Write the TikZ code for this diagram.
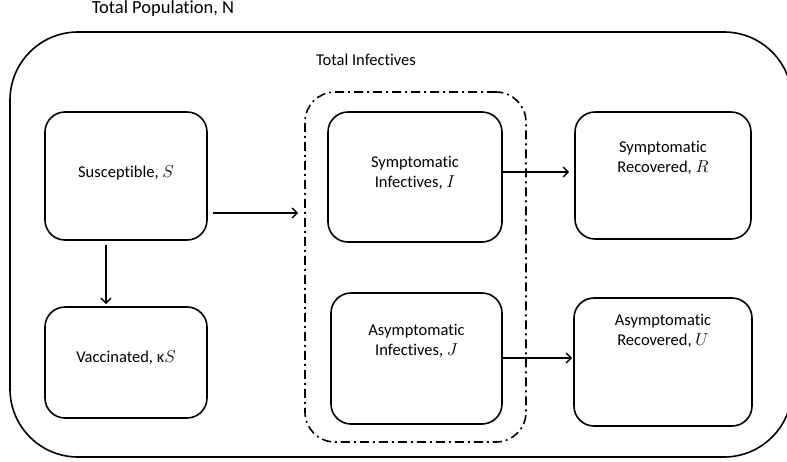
\documentclass[tikz,border=0pt]{standalone}
\usepackage{fontspec}
\setmainfont{Carlito}[Ligatures=NoCommon]
\usetikzlibrary{arrows.meta}
\begin{document}
\begin{tikzpicture}[x=1pt,y=-1pt,
  box/.style={draw, line width=1.6pt, rounded corners=20pt, inner sep=0pt},
  txt/.style={font=\fontsize{16.5}{20}\selectfont, align=center},
  arr/.style={line width=1.6pt, -{Straight Barb[length=5pt,width=10pt,line width=1.4pt]}}
]
\useasboundingbox (0,0) rectangle (787,461);
% total population frame
\node[draw, line width=1.6pt, rounded corners=68pt, minimum width=782pt, minimum height=425pt, inner sep=0pt] (pop) at (401,244.5) {};
\node[font=\fontsize{18.5}{22}\selectfont, anchor=base] (poplbl) at (163,13.5) {Total Population, N};
% total infectives frame
\node[draw, line width=1.6pt, rounded corners=30pt, dash pattern=on 9pt off 4pt on 2pt off 4pt, minimum width=221pt, minimum height=350pt, inner sep=0pt] (inf) at (415.5,267) {};
\node[txt, anchor=base] (inflbl) at (366,65) {Total Infectives};
% compartments
\node[box, minimum width=162pt, minimum height=128pt, label={[txt, yshift=3pt]center:Susceptible, $S$}] (S) at (126,176) {};
\node[box, minimum width=162pt, minimum height=111pt, label={[txt, yshift=4.5pt]center:Vaccinated, κ$S$}] (V) at (126,362.5) {};
\node[box, minimum width=174pt, minimum height=130pt, label={[txt, yshift=4pt]center:Symptomatic\\Infectives, $I$}] (I) at (415,177) {};
\node[box, minimum width=171pt, minimum height=131pt, label={[txt, yshift=17.5pt]center:Asymptomatic\\Infectives, $J$}] (J) at (416.5,358.5) {};
\node[box, minimum width=176pt, minimum height=127pt, label={[txt, yshift=17.5pt]center:Symptomatic\\Recovered, $R$}] (R) at (663,175.5) {};
\node[box, minimum width=178pt, minimum height=128pt, label={[txt, yshift=31pt]center:Asymptomatic\\Recovered, $U$}] (U) at (663,362) {};
% connectors
\coordinate (s1) at ([shift={(5,37)}]S.east);
\draw[arr] (s1) -- ([xshift=-6pt]inf.west |- s1);
\draw[arr] ([shift={(-20,4)}]S.south) -- ([shift={(-20,-2)}]V.north);
\coordinate (i1) at ([yshift=5pt]I.east);
\draw[arr] (i1) -- ([xshift=-5pt]R.west |- i1);
\coordinate (j1) at ([yshift=0.5pt]J.east);
\draw[arr] (j1) -- ([xshift=-1pt]U.west |- j1);
\end{tikzpicture}
\end{document}
